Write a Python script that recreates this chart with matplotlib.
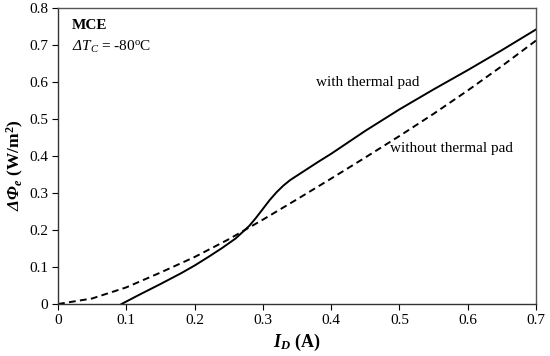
import numpy as np
import matplotlib
matplotlib.use("Agg")
import matplotlib.pyplot as plt

plt.rcParams["font.family"] = ["Liberation Serif", "DejaVu Serif"]
plt.rcParams["mathtext.fontset"] = "custom"
plt.rcParams["mathtext.rm"] = "Liberation Serif"
plt.rcParams["mathtext.it"] = "Liberation Serif:italic"
plt.rcParams["mathtext.bf"] = "Liberation Serif:bold"
# sf / tt slots reused so Greek capitals stay italic (mathtext forces them upright in 'it')
plt.rcParams["mathtext.sf"] = "Liberation Serif:italic"
plt.rcParams["mathtext.tt"] = "Liberation Serif:italic:bold"

# with thermal pad (solid)
i_with = [0.093, 0.12, 0.15, 0.18, 0.20, 0.22, 0.24, 0.26, 0.28, 0.29,
          0.30, 0.31, 0.32, 0.33, 0.34, 0.36, 0.38, 0.40, 0.45, 0.50,
          0.55, 0.60, 0.65, 0.70]
phi_with = [0.0, 0.026, 0.054, 0.083, 0.104, 0.127, 0.151, 0.177, 0.211, 0.233,
            0.257, 0.281, 0.302, 0.32, 0.335, 0.359, 0.383, 0.406, 0.468, 0.526,
            0.58, 0.632, 0.686, 0.742]

# without thermal pad (dashed)
i_without = [0.0, 0.05, 0.10, 0.15, 0.20, 0.25, 0.30, 0.35, 0.40, 0.45,
             0.50, 0.55, 0.60, 0.65, 0.70]
phi_without = [0.0, 0.015, 0.045, 0.085, 0.127, 0.175, 0.228, 0.283, 0.339, 0.396,
               0.454, 0.514, 0.577, 0.643, 0.712]

x_ticks = [0, 0.1, 0.2, 0.3, 0.4, 0.5, 0.6, 0.7]
x_labels = ["0", "0.1", "0.2", "0.3", "0.4", "0.5", "0.6", "0.7"]
y_ticks = [0, 0.1, 0.2, 0.3, 0.4, 0.5, 0.6, 0.7, 0.8]
y_labels = ["0", "0.1", "0.2", "0.3", "0.4", "0.5", "0.6", "0.7", "0.8"]

fig = plt.figure(figsize=(5.5, 3.56), dpi=100)
ax = fig.add_axes([0.1055, 0.146, 0.869, 0.8315])

ax.plot(i_with, phi_with, color="black", lw=1.4, solid_joinstyle="round")
ax.plot(i_without, phi_without, color="black", lw=1.4, dashes=(3.5, 2.2))

ax.set_xlim(0, 0.7)
ax.set_ylim(0, 0.8)
ax.set_xticks(x_ticks)
ax.set_xticklabels(x_labels)
ax.set_yticks(y_ticks)
ax.set_yticklabels(y_labels)
ax.tick_params(direction="out", length=4, width=0.8, labelsize=11, pad=3)

for s in ["left", "bottom"]:
    ax.spines[s].set_color("#333333")
    ax.spines[s].set_linewidth(1.0)
for s in ["top", "right"]:
    ax.spines[s].set_color("#555555")
    ax.spines[s].set_linewidth(1.0)

ax.set_xlabel(r"$\mathtt{I}_{\mathtt{D}}$ (A)", fontsize=13, fontweight="bold", labelpad=4)
ax.set_ylabel(r"$\mathtt{ΔΦ}_{\mathtt{e}}$ (W/m$^{\mathbf{2}}$)",
              fontsize=12.5, fontweight="bold")
ax.yaxis.set_label_coords(-0.068, 0.47)

ax.text(0.0205, 0.752, "MCE", fontsize=11, fontweight="bold", va="center")
ax.text(0.0205, 0.695, r"$\mathsf{ΔT}_{\mathsf{C}}$ = -80$^{\mathrm{o}}$C",
        fontsize=11, va="center")
ax.text(0.454, 0.6, "with thermal pad", fontsize=11, ha="center", va="center")
ax.text(0.576, 0.42, "without thermal pad", fontsize=11, ha="center", va="center")

fig.savefig("out.png", dpi=100)
